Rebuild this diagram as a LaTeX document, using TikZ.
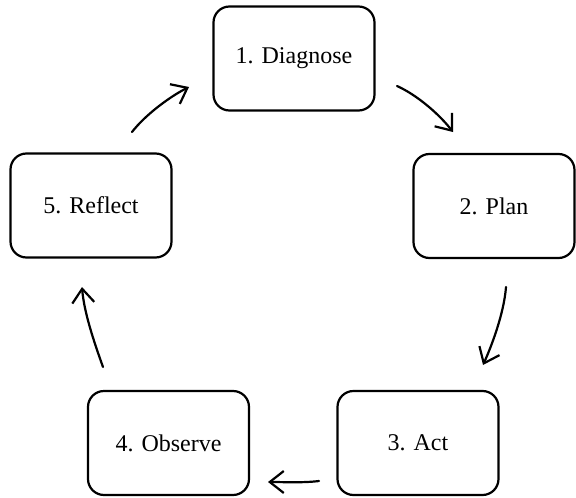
\documentclass[tikz,border=0pt]{standalone}
\usepackage{fontspec}
\setmainfont{Liberation Serif}
\usetikzlibrary{arrows.meta}
\begin{document}
\begin{tikzpicture}[x=1pt,y=-1pt,
  stage/.style={draw, line width=2.2pt, rounded corners=16pt,
    minimum width=161pt, minimum height=104pt, inner sep=0pt,
    font=\fontsize{24}{28}\selectfont},
  flow/.style={line width=2.2pt, line cap=round,
    -{Straight Barb[length=14pt,width=22pt,line join=miter]}}]
\useasboundingbox (0,0) rectangle (576,498);

% the five stages of the cycle
\node[stage] (diag) at (294,58.5) {1. Diagnose};
\node[stage] (plan) at (494,206) {2. Plan};
\node[stage] (act)  at (418,443) {3. Act};
\node[stage] (obs)  at (168.5,443) {4. Observe};
\node[stage] (refl) at (91,205.5) {5. Reflect};

% free ends of the curved arrows between stages
\coordinate (a1s) at (397,86);   \coordinate (a1e) at (453,132);
\coordinate (a2s) at (506,287);  \coordinate (a2e) at (483,365);
\coordinate (a3s) at (319,481);  \coordinate (a3e) at (268,482);
\coordinate (a4s) at (103,367);  \coordinate (a4e) at (82,287);
\coordinate (a5s) at (132,132);  \coordinate (a5e) at (189,87);

\draw[flow] (a1s) .. controls +(20,9) and +(-14,-18) .. (a1e);
\draw[flow] (a2s) .. controls +(-2,26) and +(9,-20) .. (a2e);
\draw[flow] (a3s) .. controls +(-16,2) and +(16,0) .. (a3e);
\draw[flow] (a4s) .. controls +(-9,-25) and +(2,25) .. (a4e);
\draw[flow] (a5s) .. controls +(14,-18) and +(-18,9) .. (a5e);
\end{tikzpicture}
\end{document}
